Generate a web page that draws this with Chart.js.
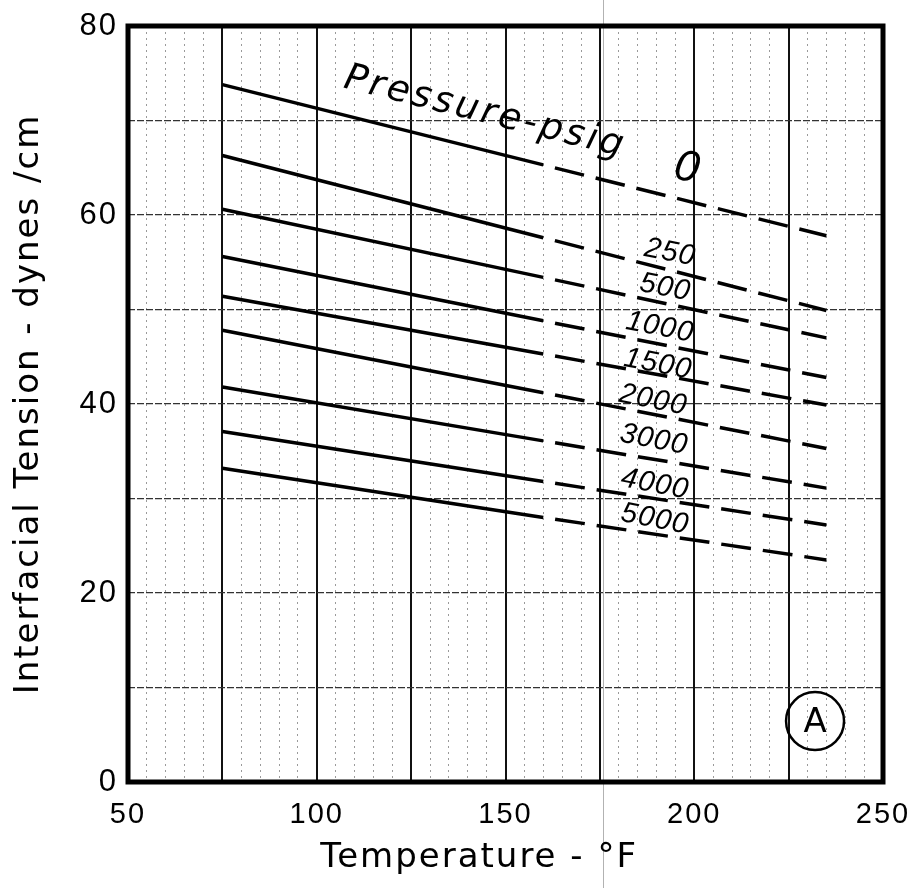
<!DOCTYPE html>
<html>
<head>
<meta charset="utf-8">
<title>Interfacial Tension vs Temperature</title>
<script src="https://cdn.jsdelivr.net/npm/chart.js@4.4.0/dist/chart.umd.min.js"></script>
<style>
  html, body { margin: 0; padding: 0; background: #fff; }
  #wrap { width: 909px; height: 888px; position: relative; }
</style>
</head>
<body>
<div id="wrap"><canvas id="ift-chart"></canvas></div>
<script>
// Data: temperature (°F) at curve start, end of solid part, end of dashed part
const temperatures = [75, 160, 235];
const pressureLabels = ['0', '250', '500', '1000', '1500', '2000', '3000', '4000', '5000'];
const ift0 = [73.8, 65.3, 57.8];
const ift250 = [66.3, 57.6, 49.9];
const ift500 = [60.6, 53.4, 47.0];
const ift1000 = [55.6, 48.8, 42.8];
const ift1500 = [51.4, 45.3, 39.9];
const ift2000 = [47.8, 41.2, 35.3];
const ift3000 = [41.8, 36.1, 31.1];
const ift4000 = [37.1, 31.8, 27.2];
const ift5000 = [33.2, 28.0, 23.5];
const xTickLabels = [50, 100, 150, 200, 250];
const yTickLabels = [0, 20, 40, 60, 80];

const series = [ift0, ift250, ift500, ift1000, ift1500, ift2000, ift3000, ift4000, ift5000];

const tickFamily = "'Liberation Sans', Arial, sans-serif";
const textFamily = "'DejaVu Sans', sans-serif";

// where each pressure label sits (data coords), set by eye
const labelSpots = [
  { x: 198.1, y: 64.9 },
  { x: 193.6, y: 56.0 },
  { x: 192.3, y: 52.3 },
  { x: 190.9, y: 48.1 },
  { x: 190.4, y: 44.2 },
  { x: 189.1, y: 40.4 },
  { x: 189.3, y: 36.2 },
  { x: 189.6, y: 31.5 },
  { x: 189.6, y: 27.8 }
];

const datasets = series.map(function(vals, i) {
  return {
    label: pressureLabels[i] + ' psig',
    data: temperatures.map(function(t, j) { return { x: t, y: vals[j] }; }),
    borderColor: '#000',
    borderWidth: 3.5,
    pointRadius: 0,
    tension: 0,
    segment: {
      // extrapolated part is dashed, starting with a short gap
      borderDash: function(ctx) { return ctx.p0DataIndex >= 1 ? [30, 12] : undefined; },
      borderDashOffset: function(ctx) { return ctx.p0DataIndex >= 1 ? 30 : 0; }
    }
  };
});

// scales should not reserve extra room for overhanging tick labels
function noOverhang(scale) {
  scale.paddingLeft = 0;
  scale.paddingRight = 0;
  scale.paddingTop = 0;
  scale.paddingBottom = 0;
}

const paperPlugin = {
  id: 'paper',
  beforeLayout(chart) {
    chart.ctx.letterSpacing = '2px';
  },
  beforeDraw(chart) {
    const ctx = chart.ctx;
    ctx.save();
    ctx.fillStyle = '#fff';
    ctx.fillRect(0, 0, chart.width, chart.height);
    ctx.restore();
  },
  afterDraw(chart) {
    const { ctx, chartArea: a, scales: { x, y } } = chart;
    ctx.save();

    // faint fold line of the scan
    ctx.strokeStyle = 'rgba(0,0,0,0.3)';
    ctx.lineWidth = 1;
    const fx = Math.round(x.getPixelForValue(175.8)) + 0.5;
    ctx.beginPath();
    ctx.moveTo(fx, 0);
    ctx.lineTo(fx, chart.height);
    ctx.stroke();

    // heavy frame
    ctx.strokeStyle = '#000';
    ctx.lineWidth = 5;
    ctx.strokeRect(a.left, a.top, a.right - a.left, a.bottom - a.top);

    ctx.fillStyle = '#000';
    ctx.textAlign = 'center';
    ctx.textBaseline = 'middle';

    // "Pressure-psig" along the top curve
    ctx.save();
    ctx.letterSpacing = '3px';
    ctx.translate(x.getPixelForValue(144.6), y.getPixelForValue(70.8));
    ctx.rotate(14 * Math.PI / 180);
    ctx.font = 'oblique 37px ' + textFamily;
    ctx.fillText('Pressure-psig', 0, 0);
    ctx.restore();

    // pressure values
    ctx.letterSpacing = '1px';
    pressureLabels.forEach(function(lbl, i) {
      const spot = labelSpots[i];
      ctx.save();
      ctx.translate(x.getPixelForValue(spot.x), y.getPixelForValue(spot.y));
      ctx.rotate(11 * Math.PI / 180);
      ctx.font = (i === 0 ? 'italic 44px ' : 'italic 29px ') + tickFamily;
      ctx.fillText(lbl, 0, 0);
      ctx.restore();
    });

    // circled A
    const cx = x.getPixelForValue(232);
    const cy = y.getPixelForValue(6.45);
    ctx.lineWidth = 2.5;
    ctx.beginPath();
    ctx.arc(cx, cy, 29, 0, Math.PI * 2);
    ctx.stroke();
    ctx.letterSpacing = '0px';
    ctx.font = '34px ' + textFamily;
    ctx.fillText('A', cx, cy + 2);

    // x axis title
    ctx.letterSpacing = '2px';
    ctx.font = '34px ' + textFamily;
    ctx.fillText('Temperature - °F', x.getPixelForValue(143), a.bottom + 76);

    ctx.restore();
  }
};

new Chart(document.getElementById('ift-chart'), {
  type: 'line',
  data: { datasets: datasets },
  options: {
    responsive: true,
    maintainAspectRatio: false,
    animation: false,
    layout: { padding: { top: 26, right: 26, left: 0, bottom: 0 } },
    plugins: {
      legend: { display: false },
      tooltip: { enabled: false }
    },
    scales: {
      x: {
        type: 'linear',
        min: 50,
        max: 250,
        afterFit: function(scale) { scale.height = 106; noOverhang(scale); },
        ticks: {
          stepSize: 5,
          autoSkip: false,
          maxRotation: 0,
          padding: 16,
          color: '#000',
          font: { family: tickFamily, size: 29 },
          callback: function(value) { return xTickLabels.includes(value) ? String(value) : ''; }
        },
        grid: {
          drawTicks: false,
          color: function(ctx) { return ctx.tick && ctx.tick.value % 25 === 0 ? '#111' : '#9a9a9a'; },
          lineWidth: function(ctx) { return ctx.tick && ctx.tick.value % 25 === 0 ? 2 : 1; }
        },
        border: {
          display: false,
          dash: function(ctx) { return ctx.tick && ctx.tick.value % 25 === 0 ? [] : [2, 4]; }
        }
      },
      y: {
        type: 'linear',
        min: 0,
        max: 80,
        afterFit: function(scale) { scale.width = 128; noOverhang(scale); },
        title: {
          display: true,
          text: 'Interfacial Tension - dynes /cm',
          color: '#000',
          font: { family: textFamily, size: 34 },
          padding: { top: 9, bottom: 0 }
        },
        ticks: {
          stepSize: 10,
          padding: 10,
          color: '#000',
          font: { family: tickFamily, size: 31 },
          callback: function(value) { return yTickLabels.includes(value) ? String(value) : ''; }
        },
        grid: {
          drawTicks: false,
          color: '#333',
          lineWidth: 1.2
        },
        border: {
          display: false,
          dash: [7, 2]
        }
      }
    }
  },
  plugins: [paperPlugin]
});
</script>
</body>
</html>
